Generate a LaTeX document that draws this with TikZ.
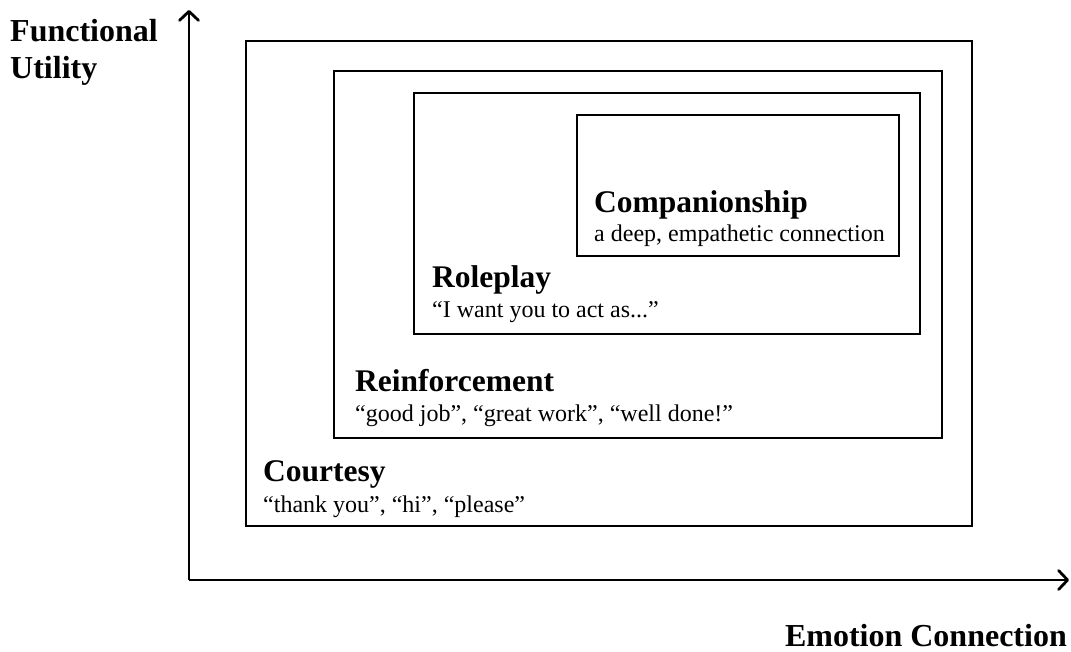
\documentclass[tikz,border=0pt]{standalone}
\usepackage{fontspec}
\setmainfont{Liberation Serif}
\usetikzlibrary{arrows.meta}

\tikzset{
  frame/.style={draw=black, line width=2.8pt},
  axis/.style={line width=2.8pt, -{Straight Barb[length=9pt,width=19pt,line cap=round,line join=round]}},
  title/.style={anchor=base west, inner sep=0pt, font=\fontsize{31.5}{38}\selectfont\bfseries},
  sub/.style={anchor=base west, inner sep=0pt, font=\fontsize{24}{29}\selectfont},
  axislabel/.style={inner sep=0pt, font=\fontsize{32}{38}\selectfont\bfseries, align=left}
}

\begin{document}
\begin{tikzpicture}[x=1pt, y=-1pt]
  \useasboundingbox (0,0) rectangle (1071,652);

  % axes
  \coordinate (origin) at (189,580);
  \coordinate (ytip) at (189,10);
  \coordinate (xtip) at (1069,580);
  \draw[axis] (origin) -- (ytip);
  \draw[axis] (origin) -- (xtip);

  \node[axislabel, anchor=base west] (fu) at (10,42) {Functional};
  \node[axislabel, anchor=base west] (ut) at (10,79) {Utility};
  \node[axislabel, anchor=base east] (ec) at (1067,646) {Emotion Connection};

  % nested frames
  \draw[frame] (246,41) rectangle (972,526);
  \draw[frame] (334,71) rectangle (942,438);
  \draw[frame] (414,93) rectangle (920,334);
  \draw[frame] (577,115) rectangle (899,256);

  % labels inside the frames
  \node[title] (cour) at (263,481) {Courtesy};
  \node[sub]   (cours) at (263,512) {“thank you”, “hi”, “please”};

  \node[title] (rein) at (355,391) {Reinforcement};
  \node[sub]   (reins) at (355,421) {“good job”, “great work”, “well done!”};

  \node[title] (role) at (432,288) {Roleplay};
  \node[sub]   (roles) at (432,318) {“I want you to act as...”};

  \node[title] (comp) at (594,213) {Companionship};
  \node[sub]   (comps) at (594,242) {a deep, empathetic connection};
\end{tikzpicture}
\end{document}
